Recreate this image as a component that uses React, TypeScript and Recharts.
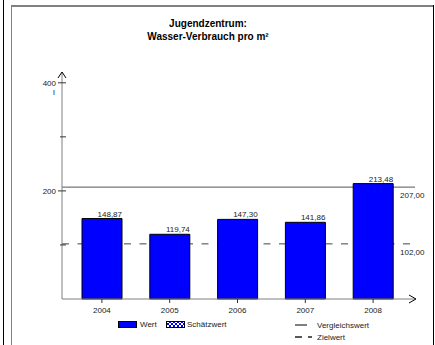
import { BarChart, Bar, XAxis, YAxis, ReferenceLine, LabelList } from 'recharts'

const years = ['2004', '2005', '2006', '2007', '2008']
const wert = [148.87, 119.74, 147.3, 141.86, 213.48]
const yTicks = [100, 200, 300, 400]
const yLabels = [200, 400]
const vergleichswert = 207
const zielwert = 102

const data = years.map((year, i) => ({ year, wert: wert[i] }))

const FONT = '"Liberation Sans", Arial, sans-serif'
const fmt = (v: number) => v.toFixed(2).replace('.', ',')

function YTick(props: any) {
  const { x, y, payload } = props
  const major = yLabels.includes(payload.value)
  return (
    <g>
      <line x1={major ? x - 4 : x - 2} x2={x + 4} y1={y} y2={y} stroke="#333" strokeWidth={1} />
      {major && (
        <text x={x - 6} y={y + 3} textAnchor="end" fontSize={8} fontFamily={FONT} fill="#222">
          {payload.value}
        </text>
      )}
      {payload.value === 400 && (
        <text x={x - 8} y={y + 12} textAnchor="middle" fontSize={8} fontFamily={FONT} fill="#222">
          l
        </text>
      )}
    </g>
  )
}

function BarValue(props: any) {
  const { x, y, width, value } = props
  return (
    <text x={x + width} y={y - 2} textAnchor="end" fontSize={8} fontFamily={FONT} fill="#222">
      {fmt(value)}
    </text>
  )
}

function RefLabel(text: string) {
  return (props: any) => {
    const vb = props.viewBox
    return (
      <text x={vb.x + vb.width - 15} y={vb.y + 11} fontSize={8} fontFamily={FONT} fill="#222">
        {text}
      </text>
    )
  }
}

export default function App() {
  return (
    <div style={{ position: 'absolute', left: 0, top: 0, width: 435, height: 345, background: '#fff', fontFamily: FONT }}>
      <BarChart
        width={435}
        height={345}
        data={data}
        margin={{ top: 72, right: 20, left: 2, bottom: 30 }}
        barSize={40}
      >
        <ReferenceLine y={vergleichswert} zIndex={50} stroke="#555" strokeWidth={1} label={RefLabel(fmt(vergleichswert))} />
        <ReferenceLine y={zielwert} zIndex={50} stroke="#444" strokeWidth={1} strokeDasharray="7 8.5" label={RefLabel(fmt(zielwert))} />
        <XAxis
          dataKey="year"
          height={16}
          padding={{ left: 6, right: 8 }}
          axisLine={{ stroke: '#808080', strokeWidth: 1 }}
          tickLine={{ stroke: '#333' }}
          tickSize={4}
          tickMargin={4}
          tick={{ fontSize: 8, fontFamily: FONT, fill: '#222' }}
        />
        <YAxis
          width={60}
          domain={[0, 420]}
          ticks={yTicks}
          interval={0}
          axisLine={{ stroke: '#808080', strokeWidth: 1 }}
          tickLine={false}
          tickSize={0}
          tickMargin={0}
          tick={<YTick />}
        />
        <Bar dataKey="wert" zIndex={300} fill="#0000FF" stroke="#000" strokeWidth={1} isAnimationActive={false}>
          <LabelList dataKey="wert" content={<BarValue />} />
        </Bar>
      </BarChart>
      <svg
        width={435}
        height={345}
        style={{ position: 'absolute', left: 0, top: 0, pointerEvents: 'none' }}
      >
        <defs>
          <pattern id="hatch" width="4" height="4" patternUnits="userSpaceOnUse">
            <rect width="4" height="4" fill="#fff" />
            <path d="M0,0 L4,4 M4,0 L0,4" stroke="#0000FF" strokeWidth={1} />
          </pattern>
        </defs>
        {/* frame */}
        <line x1={3.5} x2={3.5} y1={0} y2={345} stroke="#000" />
        <line x1={11.5} x2={11.5} y1={5} y2={345} stroke="#808080" />
        <line x1={11} x2={434} y1={6} y2={6} stroke="#808080" strokeWidth={2} />
        <line x1={433.5} x2={433.5} y1={5} y2={345} stroke="#000" />
        {/* title */}
        <text x={208} y={27} textAnchor="middle" fontSize={10} fontWeight="bold" fontFamily={FONT} fill="#000">
          Jugendzentrum:
        </text>
        <text x={208} y={40} textAnchor="middle" fontSize={10} fontWeight="bold" fontFamily={FONT} fill="#000">
          Wasser-Verbrauch pro m²
        </text>
        {/* axis arrows */}
        <polyline points="58,78 62,72 66,78" fill="none" stroke="#000" strokeWidth={1} />
        <polyline points="409,295 416,299 409,303" fill="none" stroke="#000" strokeWidth={1} />
        {/* legend */}
        <rect x={118.5} y={321.5} width={18} height={6} fill="#0000FF" stroke="#000" />
        <text x={140} y={327} fontSize={8} fontFamily={FONT} fill="#222">Wert</text>
        <rect x={166.5} y={321.5} width={18} height={6} fill="url(#hatch)" stroke="#000" />
        <text x={187} y={327} fontSize={8} fontFamily={FONT} fill="#222">Schätzwert</text>
        <line x1={295} x2={307} y1={325} y2={325} stroke="#555" strokeWidth={1.5} />
        <text x={317} y={328} fontSize={8} fontFamily={FONT} fill="#222">Vergleichswert</text>
        <line x1={295} x2={312} y1={337} y2={337} stroke="#222" strokeWidth={1.5} strokeDasharray="7 6" />
        <text x={317} y={340} fontSize={8} fontFamily={FONT} fill="#222">Zielwert</text>
      </svg>
    </div>
  )
}
